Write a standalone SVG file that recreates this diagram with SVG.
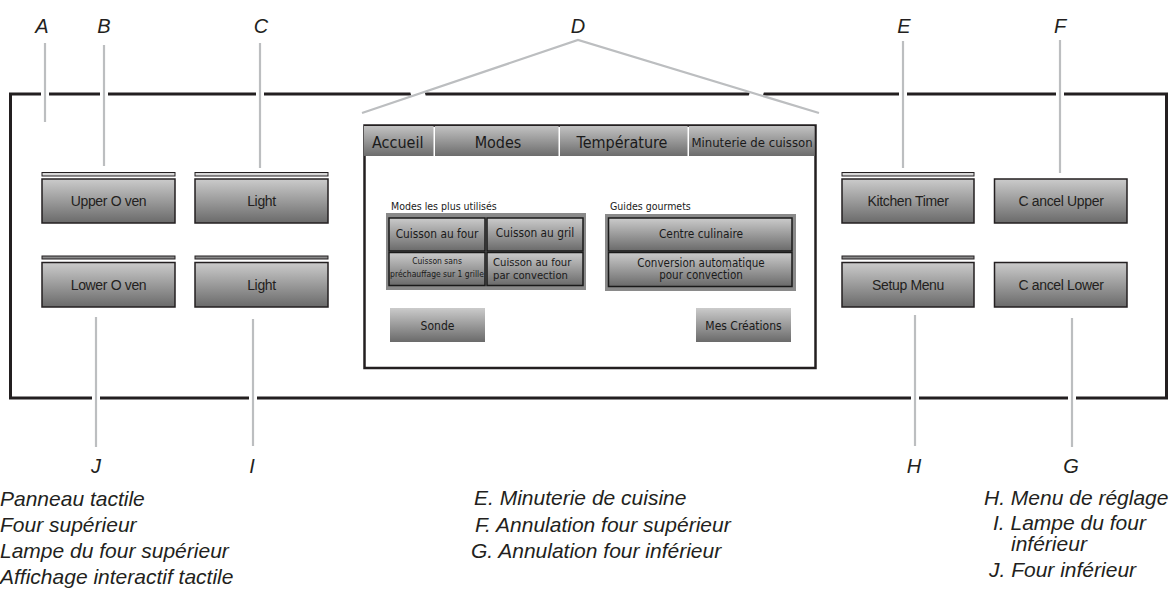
<svg xmlns="http://www.w3.org/2000/svg" width="1174" height="589" viewBox="0 0 1174 589">
<defs>
<linearGradient id="gBtn" x1="0" y1="0" x2="0" y2="1">
<stop offset="0" stop-color="#cbcbcb"/>
<stop offset="1" stop-color="#6a6a6a"/>
</linearGradient>
<linearGradient id="gTab" x1="0" y1="0" x2="0" y2="1">
<stop offset="0" stop-color="#c2c2c2"/>
<stop offset="1" stop-color="#6c6c6c"/>
</linearGradient>
<style>
.bg{fill:#ffffff}
.panel{fill:none;stroke:#231f20;stroke-width:3}
.lead{fill:none;stroke:#bcbec0;stroke-width:2.2}
.halo{fill:none;stroke:#ffffff;stroke-width:8}
.pbtn{fill:url(#gBtn);stroke:#231f20;stroke-width:1.5}
.barL{fill:#d8d8d8;stroke:#231f20;stroke-width:1}
.barD{fill:#8a8a8a;stroke:#231f20;stroke-width:1}
.ptxt{font-family:"Liberation Sans",Arial,sans-serif;font-size:14px;fill:#231f20;text-anchor:middle;letter-spacing:-0.35px}
.lbl{font-family:"Liberation Sans",Arial,sans-serif;font-style:italic;font-size:20px;fill:#231f20;text-anchor:middle}
.leg{font-family:"Liberation Sans",Arial,sans-serif;font-style:italic;font-size:21px;fill:#231f20}
.screen{fill:#ffffff;stroke:#231f20;stroke-width:2.5}
.tab{fill:url(#gTab)}
.ui{font-family:"DejaVu Sans Condensed","DejaVu Sans",sans-serif;font-stretch:condensed;fill:#1a1a1a}
.mid{text-anchor:middle}
.frame{fill:#8a8a8a}
.sbtn{fill:url(#gBtn);stroke:#1a1a1a;stroke-width:1.5}
.flat{fill:url(#gBtn)}
</style>
</defs>
<rect class="bg" x="0" y="0" width="1174" height="589"/>

<g id="panel">
<rect class="panel" x="10.5" y="94" width="1156" height="304"/>
</g>

<g id="connectors">
<line class="halo" x1="45" y1="88" x2="45" y2="100"/>
<line class="halo" x1="104" y1="88" x2="104" y2="100"/>
<line class="halo" x1="260" y1="88" x2="260" y2="100"/>
<line class="halo" x1="903" y1="88" x2="903" y2="100"/>
<line class="halo" x1="1060" y1="88" x2="1060" y2="100"/>
<line class="halo" x1="96" y1="392" x2="96" y2="404"/>
<line class="halo" x1="253" y1="392" x2="253" y2="404"/>
<line class="halo" x1="915" y1="392" x2="915" y2="404"/>
<line class="halo" x1="1072" y1="392" x2="1072" y2="404"/>
<line class="halo" x1="424.5" y1="91.9" x2="411.5" y2="96.1" stroke-width="7"/>
<line class="halo" x1="749.8" y1="92.1" x2="762.8" y2="95.9" stroke-width="7"/>
<line class="lead" x1="45" y1="43" x2="45" y2="122"/>
<line class="lead" x1="104" y1="45" x2="104" y2="166"/>
<line class="lead" x1="260" y1="43" x2="260" y2="168"/>
<polyline class="lead" points="362,113 578,40 819,113"/>
<line class="lead" x1="903" y1="41" x2="903" y2="168"/>
<line class="lead" x1="1060" y1="40" x2="1060" y2="173"/>
<line class="lead" x1="96" y1="317" x2="96" y2="447"/>
<line class="lead" x1="253" y1="319" x2="253" y2="446"/>
<line class="lead" x1="915" y1="315" x2="915" y2="446"/>
<line class="lead" x1="1072" y1="318" x2="1072" y2="447"/>
</g>

<g id="labels">
<text class="lbl" x="42" y="33">A</text>
<text class="lbl" x="104" y="33">B</text>
<text class="lbl" x="261" y="33">C</text>
<text class="lbl" x="578" y="33">D</text>
<text class="lbl" x="904" y="33">E</text>
<text class="lbl" x="1060" y="33">F</text>
<text class="lbl" x="96" y="473">J</text>
<text class="lbl" x="252" y="473">I</text>
<text class="lbl" x="914" y="473">H</text>
<text class="lbl" x="1071" y="473">G</text>
</g>

<g id="btn-upper-oven">
<rect class="barL" x="42" y="172.5" width="133" height="3.5"/>
<rect class="pbtn" x="42" y="179" width="133" height="44"/>
<text class="ptxt" x="108.5" y="206">Upper O ven</text>
</g>
<g id="btn-light-upper">
<rect class="barL" x="195" y="172.5" width="133" height="3.5"/>
<rect class="pbtn" x="195" y="179" width="133" height="44"/>
<text class="ptxt" x="261.5" y="206">Light</text>
</g>
<g id="btn-lower-oven">
<rect class="barD" x="42" y="256" width="133" height="3"/>
<rect class="pbtn" x="42" y="262.5" width="133" height="44.5"/>
<text class="ptxt" x="108.5" y="290">Lower O ven</text>
</g>
<g id="btn-light-lower">
<rect class="barD" x="195" y="256" width="133" height="3"/>
<rect class="pbtn" x="195" y="262.5" width="133" height="44.5"/>
<text class="ptxt" x="261.5" y="290">Light</text>
</g>
<g id="btn-kitchen-timer">
<rect class="barL" x="842" y="172.5" width="132" height="3.5"/>
<rect class="pbtn" x="842" y="179" width="132" height="44"/>
<text class="ptxt" x="908" y="206">Kitchen Timer</text>
</g>
<g id="btn-cancel-upper">
<rect class="pbtn" x="994.5" y="179" width="132.5" height="44"/>
<text class="ptxt" x="1061" y="206">C ancel Upper</text>
</g>
<g id="btn-setup-menu">
<rect class="barD" x="842" y="256" width="132" height="3"/>
<rect class="pbtn" x="842" y="262.5" width="132" height="44.5"/>
<text class="ptxt" x="908" y="290">Setup Menu</text>
</g>
<g id="btn-cancel-lower">
<rect class="pbtn" x="994.5" y="262.5" width="132.5" height="44.5"/>
<text class="ptxt" x="1061" y="290">C ancel Lower</text>
</g>

<g id="display">
<rect class="screen" x="364.5" y="125.5" width="451" height="242.5"/>
<rect class="tab" x="364" y="126" width="69.5" height="30"/>
<rect class="tab" x="435" y="126" width="123.5" height="30"/>
<rect class="tab" x="560" y="126" width="127.5" height="30"/>
<rect class="tab" x="689" y="126" width="125.5" height="30"/>
<text class="ui" x="372" y="148" font-size="16">Accueil</text>
<text class="ui mid" x="498" y="148" font-size="16">Modes</text>
<text class="ui mid" x="622" y="148" font-size="16">Température</text>
<text class="ui mid" x="752" y="147" font-size="13">Minuterie de cuisson</text>

<text class="ui" x="391" y="210" font-size="10.5">Modes les plus utilisés</text>
<rect class="frame" x="386" y="213" width="200" height="77"/>
<rect class="sbtn" x="389" y="218" width="96" height="33"/>
<rect class="sbtn" x="487" y="218" width="96" height="33"/>
<rect class="sbtn" x="389" y="252.5" width="96" height="33"/>
<rect class="sbtn" x="487" y="252.5" width="96" height="33"/>
<text class="ui mid" x="437" y="238" font-size="11.8">Cuisson au four</text>
<text class="ui mid" x="535" y="237" font-size="11.8">Cuisson au gril</text>
<text class="ui mid" x="437" y="264" font-size="8.5">Cuisson sans</text>
<text class="ui mid" x="437" y="277" font-size="8.5">préchauffage sur 1 grille</text>
<text class="ui" x="493" y="266" font-size="11.2">Cuisson au four</text>
<text class="ui" x="493" y="278.5" font-size="11.2">par convection</text>

<text class="ui" x="610" y="210" font-size="10.5">Guides gourmets</text>
<rect class="frame" x="605" y="214" width="191" height="77"/>
<rect class="sbtn" x="608.5" y="218" width="183.5" height="33"/>
<rect class="sbtn" x="608.5" y="252.5" width="183.5" height="34"/>
<text class="ui mid" x="701" y="238" font-size="11.8">Centre culinaire</text>
<text class="ui mid" x="701" y="266.5" font-size="11.5">Conversion automatique</text>
<text class="ui mid" x="701" y="278.5" font-size="11.5">pour convection</text>

<rect class="flat" x="390" y="308" width="95" height="34"/>
<text class="ui mid" x="437.5" y="330" font-size="12">Sonde</text>
<rect class="flat" x="696" y="308" width="95" height="34"/>
<text class="ui mid" x="743.5" y="330" font-size="12">Mes Créations</text>
</g>

<g id="legend">
<text class="leg" x="0" y="506">Panneau tactile</text>
<text class="leg" x="0" y="532">Four supérieur</text>
<text class="leg" x="0" y="558">Lampe du four supérieur</text>
<text class="leg" x="0" y="584">Affichage interactif tactile</text>
<text class="leg" x="474" y="505">E. Minuterie de cuisine</text>
<text class="leg" x="475" y="532">F. Annulation four supérieur</text>
<text class="leg" x="471" y="558">G. Annulation four inférieur</text>
<text class="leg" x="984" y="505">H. Menu de réglage</text>
<text class="leg" x="993" y="530">I. Lampe du four</text>
<text class="leg" x="1011" y="551">inférieur</text>
<text class="leg" x="989" y="577">J. Four inférieur</text>
</g>
</svg>
